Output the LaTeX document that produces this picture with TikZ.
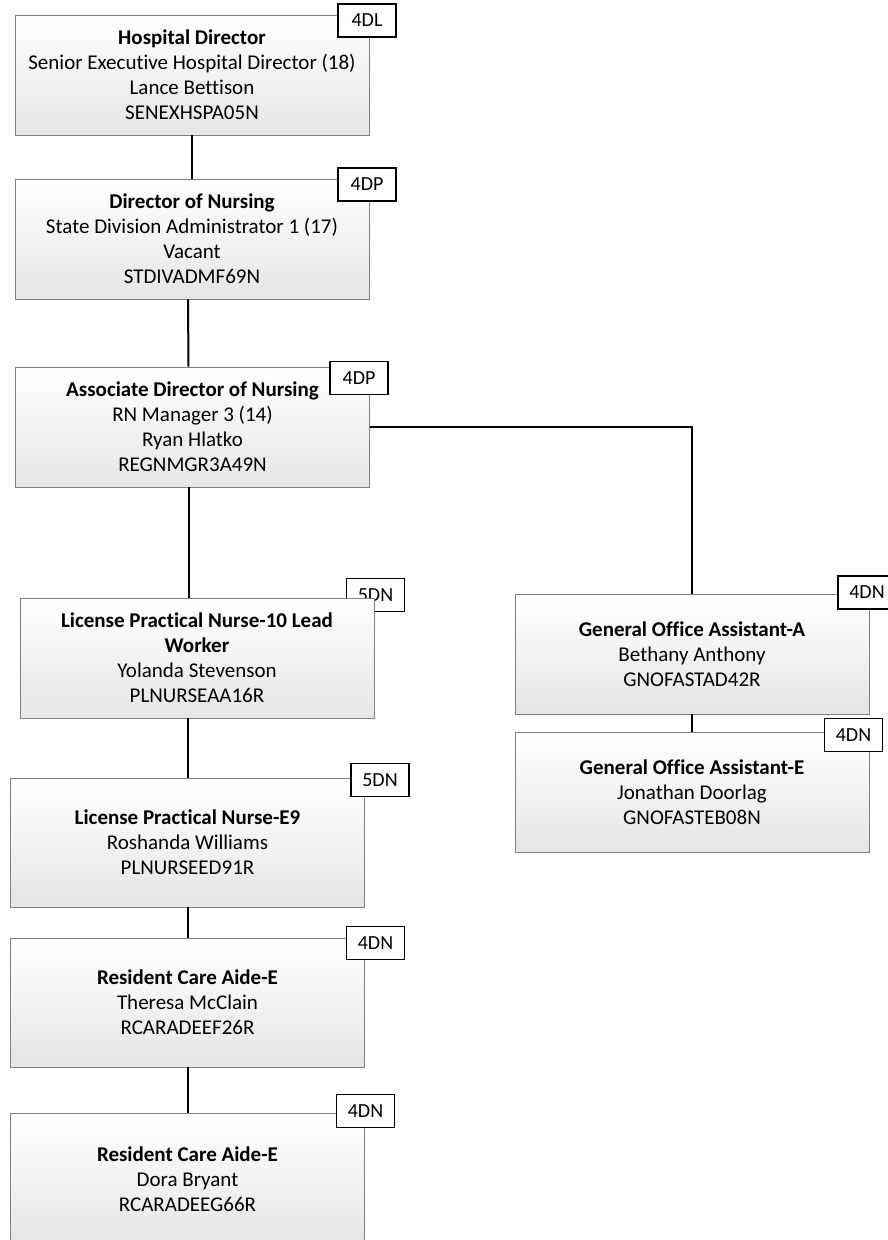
\documentclass[tikz,border=0pt]{standalone}
\usepackage{fontspec}
\setmainfont{Carlito}[Ligatures=CommonOff]
\tikzset{
  posbox/.style={draw=black!50, line width=0.9pt, top color=white, bottom color=black!10,
    minimum width=354pt, minimum height=120pt, inner sep=0pt, align=center,
    font=\fontsize{21}{25}\selectfont},
  codetag/.style={draw=black, line width=1.5pt, fill=white, minimum width=58pt,
    minimum height=33pt, inner sep=0pt, font=\fontsize{20}{22}\selectfont},
  link/.style={line width=2pt}
}
\begin{document}
\begin{tikzpicture}[x=1pt,y=-1pt]

\useasboundingbox (0,0) rectangle (888,1240);

% Hospital Director
\node[posbox] (hd) at (192,75)
{\textbf{Hospital Director}\\Senior Executive Hospital Director (18)\\Lance Bettison\\SENEXHSPA05N};
\node[codetag] (hdtag) at (367,20.5) {4DL};

% Director of Nursing
\node[posbox] (dn) at (192,239)
{\textbf{Director of Nursing}\\State Division Administrator 1 (17)\\Vacant\\STDIVADMF69N};
\node[codetag] (dntag) at (367,184.5) {4DP};

% Associate Director of Nursing
\node[posbox] (adn) at (192.5,427)
{\textbf{Associate Director of Nursing}\\RN Manager 3 (14)\\Ryan Hlatko\\REGNMGR3A49N};
\node[codetag] (adntag) at (359,378) {4DP};

% License Practical Nurse-10 Lead Worker
\node[codetag] (lpnltag) at (375.5,595) {5DN};
\node[posbox] (lpnl) at (197,658)
{\textbf{License Practical Nurse-10 Lead}\\\textbf{Worker}\\Yolanda Stevenson\\PLNURSEAA16R};

% License Practical Nurse-E9
\node[posbox, minimum height=129pt] (lpne) at (187.5,842.5)
{\textbf{License Practical Nurse-E9}\\Roshanda Williams\\PLNURSEED91R};
\node[codetag] (lpnetag) at (380,780) {5DN};

% Resident Care Aide-E
\node[posbox, minimum height=129pt] (rcaa) at (187.5,1002.5)
{\textbf{Resident Care Aide-E}\\Theresa McClain\\RCARADEEF26R};
\node[codetag] (rcaatag) at (375.5,943) {4DN};

% Resident Care Aide-E
\node[posbox, minimum height=132pt] (rcab) at (187.5,1179)
{\textbf{Resident Care Aide-E}\\Dora Bryant\\RCARADEEG66R};
\node[codetag] (rcabtag) at (365.5,1111) {4DN};

% General Office Assistant-A
\node[posbox] (goaa) at (692,654)
{\textbf{General Office Assistant-A}\\Bethany Anthony\\GNOFASTAD42R};
\node[codetag] (goaatag) at (867,592.5) {4DN};

% General Office Assistant-E
\node[posbox] (goae) at (692,792)
{\textbf{General Office Assistant-E}\\Jonathan Doorlag\\GNOFASTEB08N};
\node[codetag] (goaetag) at (853.5,735) {4DN};

% links
\draw[link] (hd.south) -- (dn.north);
\draw[link] ([xshift=-4pt]dn.south) -- ([xshift=-4pt]adn.north);
\draw[link] ([xshift=-4pt]adn.south) -- ([xshift=-4pt]adn.south |- lpnl.north);
\draw[link] (lpne.north |- lpnl.south) -- (lpne.north);
\draw[link] (lpne.south) -- (rcaa.north);
\draw[link] (rcaa.south) -- (rcab.north);
\draw[link] (adn.east) -| (goaa.north);
\draw[link] (goaa.south) -- (goae.north);

\end{tikzpicture}
\end{document}
